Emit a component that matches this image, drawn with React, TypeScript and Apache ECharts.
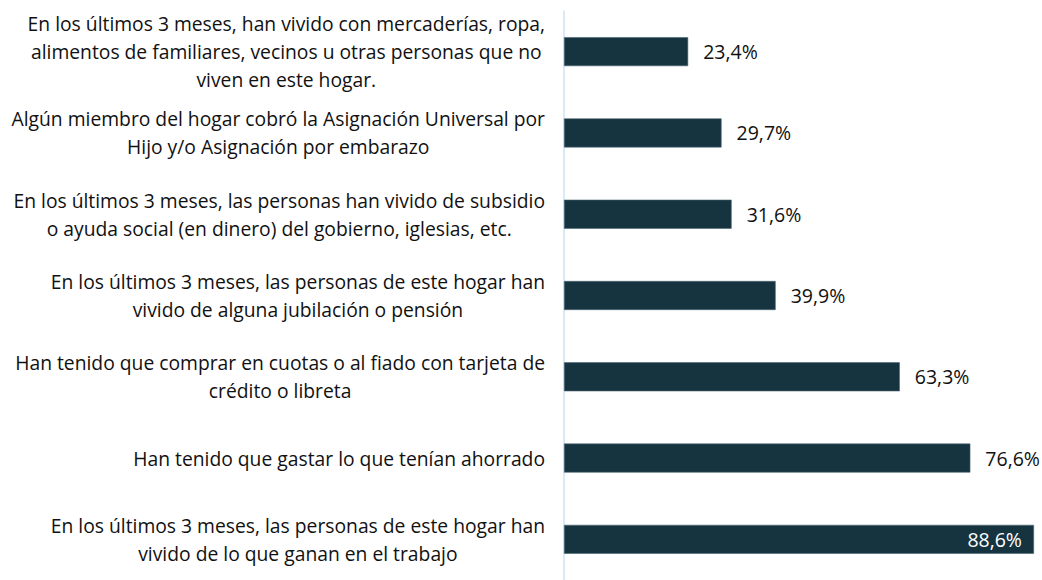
import React, { useEffect, useRef } from "react";
import * as echarts from "echarts";

const categories: string[] = [
  "En los últimos 3 meses, las personas de este hogar han\nvivido de lo que ganan en el trabajo",
  "Han tenido que gastar lo que tenían ahorrado",
  "Han tenido que comprar en cuotas o al fiado con tarjeta de\ncrédito o libreta",
  "En los últimos 3 meses, las personas de este hogar han\nvivido de alguna jubilación o pensión",
  "En los últimos 3 meses, las personas han vivido de subsidio\no ayuda social (en dinero) del gobierno, iglesias, etc.",
  "Algún miembro del hogar cobró la Asignación Universal por\nHijo y/o Asignación por embarazo",
  "En los últimos 3 meses, han vivido con mercaderías, ropa,\nalimentos de familiares, vecinos u otras personas que no\nviven en este hogar.",
];

const values: number[] = [88.6, 76.6, 63.3, 39.9, 31.6, 29.7, 23.4];

const fmt = (v: number) => v.toFixed(1).replace(".", ",") + "%";

export default function App() {
  const ref = useRef<HTMLDivElement>(null);
  useEffect(() => {
    document.body.style.margin = "0";
    const chart = echarts.init(ref.current!, undefined, { renderer: "svg" });
    const font = "'Open Sans', sans-serif";
    chart.setOption({
      animation: false,
      grid: { left: 564, right: 8, top: 11, bottom: -6, containLabel: false },
      xAxis: {
        type: "value",
        min: 0,
        max: 88.6,
        show: false,
      },
      yAxis: {
        type: "category",
        data: categories,
        axisLine: { show: true, lineStyle: { color: "#cfe3ef", width: 1.5 } },
        axisTick: { show: false },
        axisLabel: {
          margin: 19,
          formatter: (v: string) =>
            v
              .split("\n")
              .map((l) => "{c|" + l + "}")
              .join("\n"),
          rich: {
            c: {
              align: "center",
              fontFamily: font,
              fontSize: 19.3,
              lineHeight: 28,
              color: "#111",
            },
          },
        },
      },
      series: [
        {
          type: "bar",
          data: values.map((v, i) => ({
            value: v,
            label:
              i === 0
                ? { position: "insideRight", color: "#fff", offset: [3, 0] }
                : { position: "right", color: "#111" },
          })),
          barWidth: 29,
          itemStyle: { color: "#163340", borderColor: "#4b6672", borderWidth: 0.6 },
          label: {
            show: true,
            distance: 15,
            fontFamily: font,
            fontSize: 19.5,
            formatter: (p: any) => fmt(p.value),
          },
        },
      ],
    });
    return () => chart.dispose();
  }, []);
  return <div ref={ref} style={{ width: 1042, height: 580 }} />;
}
